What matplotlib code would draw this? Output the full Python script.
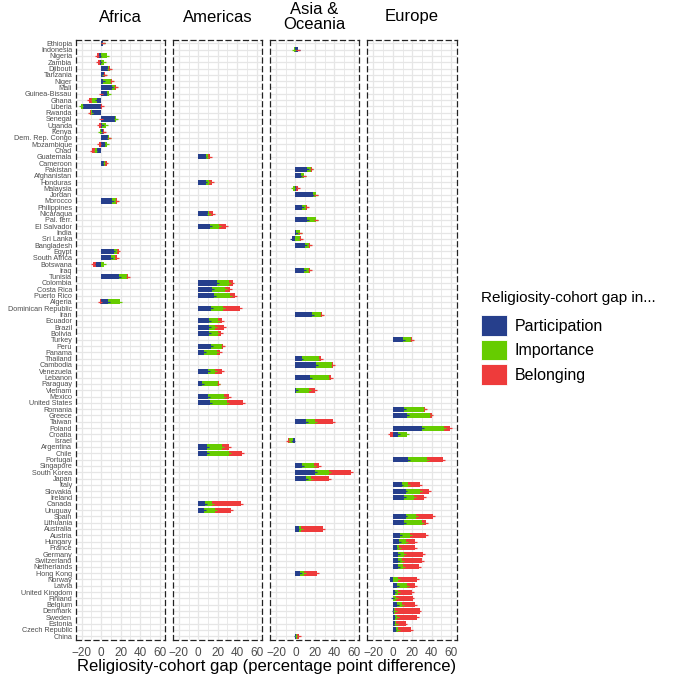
import numpy as np
import matplotlib.pyplot as plt
from matplotlib.patches import Patch

plt.rcParams['font.family'] = ['Liberation Sans', 'DejaVu Sans']

countries = [
    "Ethiopia", "Indonesia", "Nigeria", "Zambia", "Djibouti", "Tanzania", "Niger", "Mali",
    "Guinea-Bissau", "Ghana", "Liberia", "Rwanda", "Senegal", "Uganda", "Kenya",
    "Dem. Rep. Congo", "Mozambique", "Chad", "Guatemala", "Cameroon", "Pakistan",
    "Afghanistan", "Honduras", "Malaysia", "Jordan", "Morocco", "Philippines", "Nicaragua",
    "Pal. terr.", "El Salvador", "India", "Sri Lanka", "Bangladesh", "Egypt", "South Africa",
    "Botswana", "Iraq", "Tunisia", "Colombia", "Costa Rica", "Puerto Rico", "Algeria",
    "Dominican Republic", "Iran", "Ecuador", "Brazil", "Bolivia", "Turkey", "Peru", "Panama",
    "Thailand", "Cambodia", "Venezuela", "Lebanon", "Paraguay", "Vietnam", "Mexico",
    "United States", "Romania", "Greece", "Taiwan", "Poland", "Croatia", "Israel",
    "Argentina", "Chile", "Portugal", "Singapore", "South Korea", "Japan", "Italy",
    "Slovakia", "Ireland", "Canada", "Uruguay", "Spain", "Lithuania", "Australia", "Austria",
    "Hungary", "France", "Germany", "Switzerland", "Netherlands", "Hong Kong", "Norway",
    "Latvia", "United Kingdom", "Finland", "Belgium", "Denmark", "Sweden", "Estonia",
    "Czech Republic", "China",
]

AF, AM, AS, EU = "Africa", "Americas", "Asia & Oceania", "Europe"
regions = [
    AF, AS, AF, AF, AF, AF, AF, AF,
    AF, AF, AF, AF, AF, AF, AF,
    AF, AF, AF, AM, AF, AS,
    AS, AM, AS, AS, AF, AS, AM,
    AS, AM, AS, AS, AS, AF, AF,
    AF, AS, AF, AM, AM, AM, AF,
    AM, AS, AM, AM, AM, EU, AM, AM,
    AS, AS, AM, AS, AM, AS, AM,
    AM, EU, EU, AS, EU, EU, AS,
    AM, AM, EU, AS, AS, AS, EU,
    EU, EU, AM, AM, EU, EU, AS, EU,
    EU, EU, EU, EU, EU, AS, EU,
    EU, EU, EU, EU, EU, EU, EU,
    EU, AS,
]

participation = [
    1.5, 2.5, -2.5, -1.5, 7, 2.5, 2, 11,
    6, -4, -19, -9, 14.5, 1, 1.5,
    7.5, 3.5, -4, 8.3, 2.5, 11.5,
    5.5, 8.3, 1, 17.5, 11, 7, 10,
    11.5, 12.5, 1, -4, 10, 12.8, 10.3,
    -5, 8.3, 18, 19.3, 14.5, 16.2, 7.5,
    13.5, 17, 11, 11, 11, 10.3, 13.5, 5.5,
    6.2, 21, 10, 14.8, 3.8, 1, 10,
    12.4, 11.4, 14.8, 10.7, 29.6, 5.5, -3,
    9.3, 9.3, 15.9, 7.2, 20.3, 10.7, 9,
    13.1, 11.4, 6.6, 5.5, 13.1, 11.4, 3.8, 7.9,
    6.2, 4.5, 5.5, 5.5, 5.5, 4.5, -2.4,
    4.5, 2, 0.5, 4.5, 1, 2, 2,
    2.8, 0.7,
]

importance = [
    0.5, -1.5, 6, 2.5, 1, 0.5, 8, 3.5,
    2, -5, -2, -1.5, 1, 4, -1.5,
    0.5, 2.5, -2, 2, 1.5, 4.5,
    3, 3, -2.5, 3.5, 4.5, 3.5, 1,
    9.5, 9, 3.5, 5, 4, 3.5, 4,
    3, 5.8, 8.5, 12.4, 12.8, 16.2, 12,
    12, 9.3, 9.3, 6.5, 9.3, 8, 11, 13.8,
    18.3, 16.5, 7, 20, 16.5, 13, 16,
    17.2, 20.7, 23, 9.7, 23, 9.3, -4,
    15.5, 22.4, 19.7, 12, 13.8, 5.2, 6.9,
    14.5, 10.3, 8, 11.4, 11, 18.3, 1.7, 10.3,
    7.6, 1.7, 5.9, 4.1, 4.8, 4.5, 5.5,
    10.3, 3.5, 2.8, 5.2, 1.7, 2.4, 1.4,
    2.8, 1,
]

belonging = [
    0.3, 0.5, -1.5, -2, 1, 0.5, 1, 0.5,
    -0.5, -3.5, 0.5, -1.5, -0.5, -2, 1,
    0.5, -2, -3, 2, 1.5, 0.5,
    0.5, 3, 2, 0.5, 0.3, 1, 4,
    0.5, 7, 0.5, 1, 1, 1.5, 1.5,
    -3, 1, 1.5, 3.5, 5, 5, -1.5,
    17, 1, 4.5, 8.6, 3.5, 1.7, 1, 3.5,
    1.5, 1.5, 7, 1.5, 0.5, 6, 5.5,
    16.5, 1.5, 2, 18, 6, -2.5, -1,
    7, 12.8, 16.2, 5.2, 23.4, 18.3, 11.7,
    9.7, 10.3, 29, 17.2, 17.2, 4.1, 23.1, 15.5,
    9, 16.5, 19.7, 20, 16.5, 12.8, 19.7,
    8, 14.5, 17, 13.1, 24.8, 20.7, 9.7,
    12.8, 2,
]

panels = [AF, AM, AS, EU]
panel_titles = ["Africa", "Americas", "Asia &\nOceania", "Europe"]
series = [
    ("Participation", "#263F8C", participation),
    ("Importance", "#66CC00", importance),
    ("Belonging", "#EE3B3B", belonging),
]
ci = 2.0

W, H = 685, 679
fig = plt.figure(figsize=(W / 100, H / 100), dpi=100)

panel_left = [75.7, 172.8, 270.0, 367.3]
panel_w = 89.2
top_px, bot_px = 39.5, 640.0
n = len(countries)
ypos = np.arange(1, n + 1)

for k, panel in enumerate(panels):
    ax = fig.add_axes([panel_left[k] / W, 1 - bot_px / H, panel_w / W, (bot_px - top_px) / H])
    idx = [i for i, r in enumerate(regions) if r == panel]
    y = ypos[idx]
    pos = np.zeros(len(idx))
    neg = np.zeros(len(idx))
    for name, col, vals in series:
        v = np.array([vals[i] for i in idx])
        base = np.where(v >= 0, pos, neg)
        ax.barh(y, v, left=base, height=0.8, color=col, linewidth=0, zorder=2)
        ax.errorbar(base + v, y, xerr=ci, fmt='none', ecolor=col, elinewidth=0.9,
                    capsize=0, zorder=3)
        pos = np.where(v >= 0, pos + v, pos)
        neg = np.where(v < 0, neg + v, neg)

    ax.set_xlim(-26.2, 65.5)
    ax.set_ylim(n + 0.6, 0.4)
    ax.set_xticks([-20, 0, 20, 40, 60])
    ax.set_xticks([-10, 10, 30, 50], minor=True)
    ax.set_yticks(ypos)
    if k == 0:
        ax.set_yticklabels(countries, fontsize=5.2, color='#4D4D4D')
    else:
        ax.set_yticklabels([])
    ax.tick_params(axis='both', which='both', length=0)
    ax.tick_params(axis='x', labelsize=8.5, labelcolor='#4D4D4D', pad=5)
    ax.tick_params(axis='y', pad=2.5)
    ax.grid(True, which='major', color='#E6E6E6', linewidth=0.9, zorder=0)
    ax.grid(True, which='minor', axis='x', color='#E6E6E6', linewidth=0.6, zorder=0)
    ax.set_axisbelow(True)
    for sp in ax.spines.values():
        sp.set_linestyle((0, (4, 3)))
        sp.set_color('#222222')
        sp.set_linewidth(0.9)

    fig.text((panel_left[k] + panel_w / 2) / W, 1 - 17 / H, panel_titles[k],
             ha='center', va='center', fontsize=12, linespacing=1.0)

fig.text(266.5 / W, 1 - 666 / H, "Religiosity-cohort gap (percentage point difference)",
         ha='center', va='center', fontsize=12)

fig.text(481 / W, 1 - 298 / H, "Religiosity-cohort gap in...", ha='left', va='center',
         fontsize=11)
handles = [Patch(facecolor=col, edgecolor='white', linewidth=0.6) for _, col, _ in series]
leg = fig.legend(handles, [s[0] for s in series],
                 loc='upper left', bbox_to_anchor=(478 / W, 1 - 312 / H), frameon=False,
                 fontsize=11.5, handlelength=1.6, handleheight=1.6,
                 handletextpad=0.5, labelspacing=0.25, borderpad=0.2, borderaxespad=0)

fig.savefig("out.png", dpi=100)
